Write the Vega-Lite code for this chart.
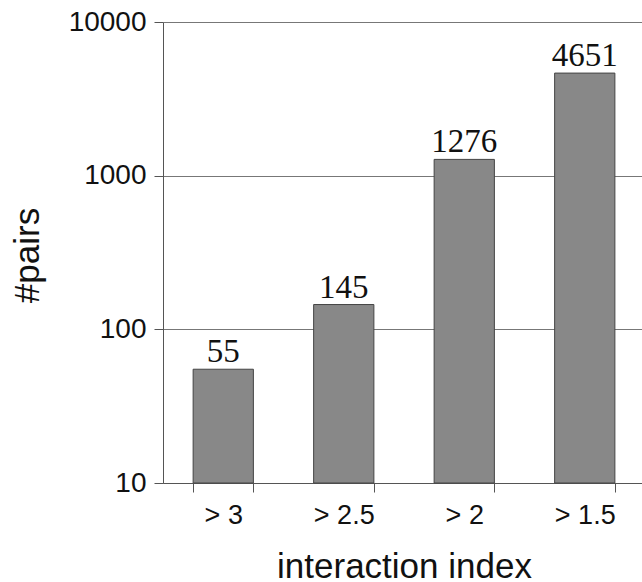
{
  "$schema": "https://vega.github.io/schema/vega-lite/v6.json",
  "autosize": "none",
  "padding": {"left": 163, "top": 22, "right": 0, "bottom": 99},
  "width": 482,
  "height": 461,
  "background": "white",
  "config": {"view": {"stroke": null}, "font": "Liberation Sans"},
  "data": {"values": [
    {"index": "> 3", "pairs": 55},
    {"index": "> 2.5", "pairs": 145},
    {"index": "> 2", "pairs": 1276},
    {"index": "> 1.5", "pairs": 4651}
  ]},
  "encoding": {
    "x": {
      "field": "index", "type": "nominal", "sort": null,
      "scale": {"paddingInner": 0.5, "paddingOuter": 0.25},
      "axis": {
        "title": "interaction index", "titleFont": "Liberation Sans", "titleFontSize": 35, "titleFontWeight": "normal", "titleColor": "#111",
        "titleY": 94, "titleBaseline": "alphabetic",
        "labelAngle": 0, "labelFontSize": 27, "labelColor": "#111", "labelPadding": 10,
        "tickBand": "extent", "tickSize": 9, "tickColor": "#555", "domainColor": "#555", "grid": false
      }
    },
    "y": {
      "field": "pairs", "type": "quantitative",
      "scale": {"type": "log", "domain": [10, 10000], "nice": false},
      "axis": {
        "title": "#pairs", "titleFont": "Liberation Sans", "titleFontSize": 35, "titleFontWeight": "normal", "titleColor": "#111",
        "titleAngle": -90, "titleX": -136, "titleY": 233, "titleAlign": "center", "titleBaseline": "middle",
        "values": [10, 100, 1000, 10000], "format": "d",
        "labelFontSize": 28, "labelColor": "#111", "labelPadding": 8,
        "tickSize": 9, "tickColor": "#555", "domainColor": "#555",
        "grid": true, "gridColor": "#777", "gridOpacity": 1, "gridWidth": 1
      }
    }
  },
  "layer": [
    {"mark": {"type": "bar", "color": "#888888", "stroke": "#444444", "strokeWidth": 1},
     "encoding": {"y2": {"datum": 10}}},
    {"mark": {"type": "text", "font": "Liberation Serif", "fontSize": 33, "baseline": "alphabetic", "dy": -7, "color": "#111"},
     "encoding": {"text": {"field": "pairs", "type": "quantitative", "format": "d"}}}
  ]
}
